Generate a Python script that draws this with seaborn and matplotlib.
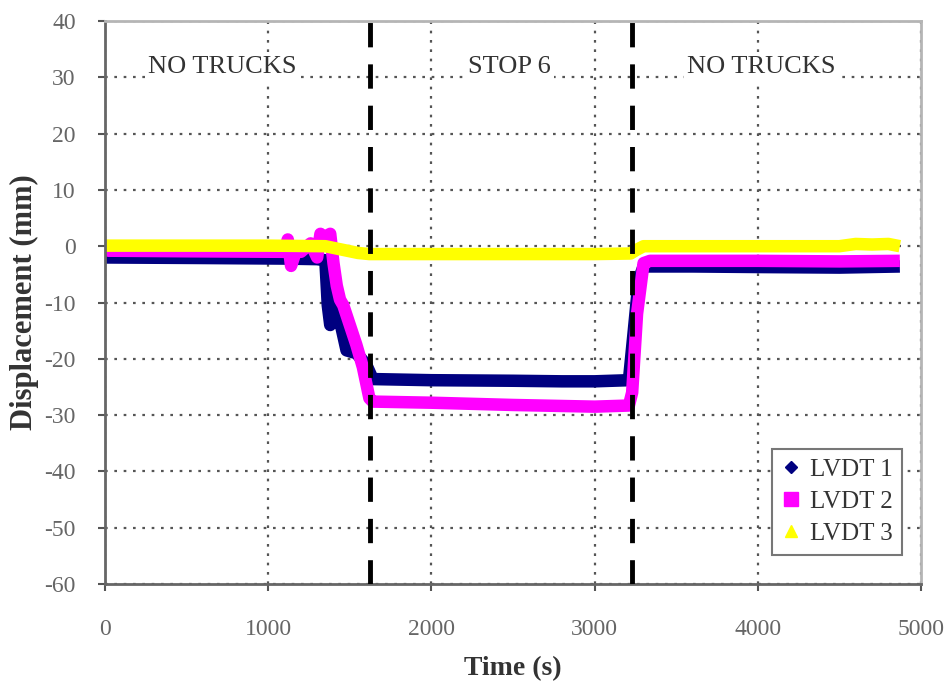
import pandas as pd
import seaborn as sns
import matplotlib.pyplot as plt
from matplotlib.lines import Line2D

# (czas w s, przemieszczenie w mm)
t_lvdt1 = [0, 600, 1100, 1300, 1350, 1365, 1380, 1395, 1410, 1430, 1480, 1540, 1600, 1640,
           2000, 2500, 2800, 3000, 3210, 3240, 3270, 3300, 3600, 4000, 4500, 4870]
y_lvdt1 = [-2.0, -2.1, -2.2, -2.3, -2.5, -10.5, -14.0, -12.5, -9.0, -12.0, -18.5, -19.0, -21.0, -23.6,
           -23.8, -23.9, -24.0, -24.0, -23.8, -15.0, -6.0, -3.6, -3.6, -3.7, -3.8, -3.6]

t_lvdt2 = [0, 20, 500, 1100, 1120, 1140, 1180, 1200, 1260, 1300, 1320, 1340, 1380, 1400, 1420,
           1440, 1460, 1500, 1540, 1580, 1620, 1640, 2000, 2500, 3000, 3210, 3230, 3260, 3300,
           3340, 4000, 4500, 4870]
y_lvdt2 = [0.5, -0.8, -0.9, -1.0, 1.2, -3.5, 0.0, -1.0, 0.5, -2.0, 2.2, 1.5, 2.2, -3.0, -7.0,
           -9.5, -10.5, -14.0, -17.5, -21.5, -27.0, -27.6, -27.8, -28.2, -28.5, -28.3, -26.0, -12.0,
           -3.0, -2.6, -2.6, -2.7, -2.6]

t_lvdt3 = [0, 500, 1000, 1350, 1400, 1450, 1550, 1620, 2000, 2500, 3000, 3220, 3260, 3300,
           3600, 4000, 4500, 4600, 4700, 4800, 4870]
y_lvdt3 = [0.1, 0.1, 0.1, 0.0, -0.3, -0.6, -1.2, -1.4, -1.4, -1.4, -1.4, -1.3, -0.6, 0.0,
           0.0, 0.0, 0.0, 0.4, 0.3, 0.4, 0.0]

series = ['LVDT 1', 'LVDT 2', 'LVDT 3']
colors = ['#000080', '#FF00FF', '#FFFF00']
markers = ['D', 's', '^']

stop_start, stop_end = 1625, 3230
region_labels = [(720, 31.8, 'NO TRUCKS'), (2480, 31.8, 'STOP 6'), (4020, 31.8, 'NO TRUCKS')]

df = pd.concat([
    pd.DataFrame({'time': t_lvdt1, 'disp': y_lvdt1, 'sensor': 'LVDT 1'}),
    pd.DataFrame({'time': t_lvdt2, 'disp': y_lvdt2, 'sensor': 'LVDT 2'}),
    pd.DataFrame({'time': t_lvdt3, 'disp': y_lvdt3, 'sensor': 'LVDT 3'}),
])

sns.set_style('white')
plt.rcParams['font.family'] = ['Liberation Serif', 'DejaVu Serif']
plt.rcParams['axes.unicode_minus'] = False

fig = plt.figure(figsize=(9.51, 6.82), dpi=100)
ax = fig.add_axes([0.1104, 0.1437, 0.8581, 0.8255])

for name, col in zip(series, colors):
    sns.lineplot(data=df[df['sensor'] == name], x='time', y='disp', color=col,
                 linewidth=9, sort=False, estimator=None, ax=ax, legend=False,
                 solid_joinstyle='round', solid_capstyle='butt')

for xv in (stop_start, stop_end):
    ax.axvline(xv, color='black', linewidth=3.5, linestyle=(0, (5, 3.5)), zorder=5)

for xv, yv, txt in region_labels:
    ax.text(xv, yv, txt, ha='center', va='center', fontsize=19, color='#333333',
            bbox=dict(facecolor='white', edgecolor='none', pad=2), zorder=6)

ax.set_xlim(0, 5000)
ax.set_ylim(-60, 40)
ax.set_xticks(range(0, 5001, 1000))
ax.set_yticks(range(-60, 41, 10))
ax.grid(True, color='#555555', linestyle=(0, (1.2, 3)), linewidth=1.6)
ax.set_axisbelow(True)

for side in ['left', 'bottom']:
    ax.spines[side].set_color('#666666')
    ax.spines[side].set_linewidth(2)
for side in ['top', 'right']:
    ax.spines[side].set_color('#b5b5b5')
    ax.spines[side].set_linewidth(2)

ax.tick_params(axis='both', direction='out', length=5, width=1.5, color='#555555',
               labelsize=17, labelcolor='#666666', left=True, bottom=True)
ax.tick_params(axis='x', pad=20)
ax.tick_params(axis='y', pad=16)

ax.set_xlabel('Time (s)', fontsize=20, fontweight='bold', color='#333333', labelpad=12)
ax.set_ylabel('Displacement (mm)', fontsize=22, fontweight='bold', color='#333333', labelpad=4)

handles = [Line2D([], [], linestyle='none', marker=m, color=c, markersize=ms)
           for m, c, ms in zip(markers, colors, [6, 10, 9])]
leg = ax.legend(handles, series, loc='lower right', bbox_to_anchor=(0.977, 0.0515),
                fontsize=18, frameon=True, fancybox=False, handlelength=0.7,
                handletextpad=0.4, borderpad=0.4, labelspacing=0.38, framealpha=1,
                borderaxespad=0)
leg.get_frame().set_edgecolor('#777777')
leg.get_frame().set_linewidth(1.5)
for txt in leg.get_texts():
    txt.set_color('#333333')

fig.savefig('out.png', dpi=100)
